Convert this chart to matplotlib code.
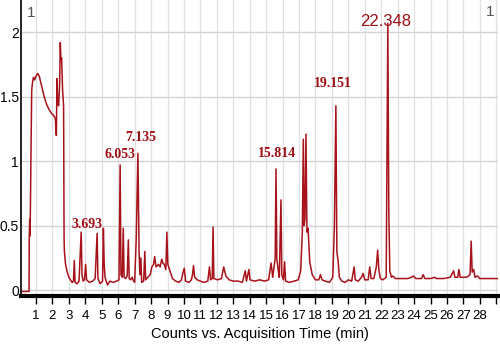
import numpy as np
import matplotlib
matplotlib.use('Agg')
import matplotlib.pyplot as plt

# chromatogram trace (time in min, counts in arbitrary units)
rt_min = [0.00, 0.58, 0.59, 0.62, 0.64, 0.66, 0.70, 0.74, 0.80, 0.85, 0.92, 1.00,
          1.10, 1.20, 1.35, 1.50, 1.65, 1.80, 1.95, 2.10, 2.18, 2.24, 2.28, 2.32,
          2.38, 2.44, 2.48, 2.52, 2.56, 2.62, 2.68, 2.71, 2.73, 2.80, 2.90, 3.00,
          3.10, 3.20, 3.28, 3.33, 3.38, 3.50, 3.62, 3.70, 3.75, 3.80, 3.87, 3.95,
          4.02, 4.08, 4.25, 4.45, 4.60, 4.72, 4.77, 4.90, 5.05, 5.10, 5.15, 5.20,
          5.35, 5.50, 5.70, 5.90, 6.05, 6.12, 6.17, 6.25, 6.31, 6.36, 6.45, 6.55,
          6.62, 6.67, 6.75, 6.85, 6.90, 7.00, 7.10, 7.20, 7.27, 7.32, 7.38, 7.43,
          7.55, 7.62, 7.67, 7.80, 7.95, 8.05, 8.15, 8.22, 8.30, 8.45, 8.55, 8.65,
          8.72, 8.80, 8.90, 8.96, 9.02, 9.15, 9.30, 9.50, 9.70, 9.85, 9.95, 10.02,
          10.10, 10.30, 10.45, 10.52, 10.58, 10.65, 10.80, 11.00, 11.20, 11.45, 11.55, 11.62,
          11.72, 11.77, 11.82, 12.05, 12.28, 12.42, 12.55, 12.75, 13.00, 13.30, 13.55, 13.73,
          13.80, 13.95, 14.02, 14.30, 14.60, 14.90, 15.15, 15.30, 15.40, 15.55, 15.60, 15.65,
          15.75, 15.80, 15.90, 15.95, 16.05, 16.12, 16.18, 16.40, 16.70, 16.95, 17.10, 17.20,
          17.26, 17.31, 17.36, 17.42, 17.48, 17.55, 17.65, 17.80, 18.00, 18.20, 18.30, 18.40,
          18.60, 18.85, 19.05, 19.15, 19.24, 19.30, 19.38, 19.45, 19.60, 19.80, 20.00, 20.20,
          20.35, 20.42, 20.60, 20.80, 20.90, 21.00, 21.20, 21.30, 21.38, 21.55, 21.70, 21.78,
          21.86, 21.95, 22.10, 22.30, 22.40, 22.46, 22.52, 22.62, 22.70, 22.85, 23.20, 23.60,
          23.85, 23.95, 24.10, 24.45, 24.55, 24.65, 25.00, 25.25, 25.35, 25.80, 26.20, 26.40,
          26.48, 26.65, 26.72, 26.80, 27.20, 27.40, 27.47, 27.53, 27.62, 27.70, 27.85, 28.00,
          28.50, 29.00, 29.10]
counts = [-0.01, -0.01, 0.40, 0.55, 0.42, 0.62, 1.10, 1.55, 1.62, 1.65, 1.63, 1.66,
          1.68, 1.66, 1.58, 1.50, 1.44, 1.40, 1.37, 1.35, 1.33, 1.20, 1.64, 1.45,
          1.43, 1.60, 1.92, 1.78, 1.80, 1.55, 1.43, 0.40, 0.30, 0.20, 0.14, 0.10,
          0.08, 0.06, 0.07, 0.23, 0.06, 0.05, 0.07, 0.30, 0.45, 0.12, 0.07, 0.08,
          0.20, 0.08, 0.06, 0.07, 0.09, 0.44, 0.09, 0.05, 0.07, 0.48, 0.20, 0.10,
          0.04, 0.07, 0.06, 0.07, 0.08, 0.97, 0.12, 0.10, 0.48, 0.10, 0.09, 0.11,
          0.39, 0.09, 0.08, 0.10, 0.08, 0.06, 0.40, 1.06, 0.30, 0.12, 0.25, 0.06,
          0.07, 0.30, 0.08, 0.10, 0.12, 0.18, 0.20, 0.26, 0.18, 0.20, 0.18, 0.24,
          0.21, 0.20, 0.16, 0.45, 0.20, 0.15, 0.09, 0.07, 0.06, 0.08, 0.14, 0.17,
          0.07, 0.06, 0.08, 0.12, 0.19, 0.10, 0.08, 0.07, 0.06, 0.07, 0.18, 0.08,
          0.09, 0.49, 0.09, 0.08, 0.09, 0.18, 0.11, 0.08, 0.07, 0.07, 0.06, 0.15,
          0.07, 0.16, 0.08, 0.07, 0.08, 0.07, 0.08, 0.21, 0.10, 0.25, 0.94, 0.24,
          0.14, 0.10, 0.70, 0.12, 0.08, 0.22, 0.07, 0.06, 0.07, 0.08, 0.15, 0.45,
          1.17, 0.50, 0.55, 1.21, 0.45, 0.48, 0.22, 0.12, 0.08, 0.08, 0.12, 0.08,
          0.07, 0.06, 0.10, 0.50, 1.43, 0.30, 0.22, 0.10, 0.07, 0.06, 0.08, 0.07,
          0.18, 0.08, 0.07, 0.10, 0.13, 0.08, 0.08, 0.18, 0.09, 0.09, 0.18, 0.31,
          0.15, 0.09, 0.08, 0.10, 2.07, 0.60, 0.15, 0.10, 0.11, 0.09, 0.09, 0.09,
          0.10, 0.11, 0.09, 0.09, 0.12, 0.09, 0.09, 0.10, 0.09, 0.09, 0.10, 0.15,
          0.10, 0.10, 0.16, 0.10, 0.10, 0.12, 0.38, 0.14, 0.16, 0.10, 0.11, 0.09,
          0.09, 0.09, 0.09]

# annotated peaks
peak_text = ['3.693', '6.053', '7.135', '15.814', '19.151']
top_peak_text = '22.348'

x_ticks = list(range(1, 30))
x_ticklabels = [str(i) if i < 29 else '' for i in x_ticks]
y_ticks = [0, 0.5, 1, 1.5, 2]
y_ticklabels = ['0', '0.5', '1', '1.5', '2']

sans = ['Liberation Sans', 'DejaVu Sans']
red = '#a8121a'
dark_red = '#9e0f14'

fig = plt.figure(figsize=(5.0, 3.57), dpi=100)
ax = fig.add_axes([0.042, 0.171, 0.954, 0.829])

ax.plot(rt_min, counts, color=red, lw=1.1)

ax.set_xlim(0.09, 29.1)
ax.set_ylim(-0.045, 2.25)

ax.set_xticks(x_ticks)
ax.set_xticklabels(x_ticklabels, family=sans, fontsize=9.5)
ax.set_yticks(y_ticks)
ax.set_yticklabels(y_ticklabels, family=sans, fontsize=10)
ax.tick_params(axis='x', length=6, width=1, pad=4, direction='out')
ax.tick_params(axis='y', length=0, pad=1.5)

ax.grid(axis='x', color='#e0e0e0', lw=0.9)
ax.grid(axis='y', color='#d2d2d2', lw=1.0)
ax.set_axisbelow(True)

for side in ['top', 'right']:
    ax.spines[side].set_visible(False)
ax.spines['left'].set_linewidth(1.2)
ax.spines['bottom'].set_linewidth(3)

ax.set_xlabel('Counts vs. Acquisition Time (min)', family=sans, fontsize=10.5, labelpad=4)

# peak labels
label_pos = [(4.08, 0.51), (6.14, 1.055), (7.38, 1.185), (15.68, 1.06), (19.07, 1.60)]
for txt, (lx, ly) in zip(peak_text, label_pos):
    ax.text(lx, ly, txt, color=dark_red, family='Liberation Serif', fontweight='bold',
            fontsize=10, ha='center', va='center')
ax.text(22.27, 2.08, top_peak_text, color=dark_red, family=sans, fontsize=12,
        ha='center', va='center')

ax.text(0.012, 0.955, '1', transform=ax.transAxes, color='#555555', family=sans,
        fontsize=11, ha='left', va='center')
ax.text(0.993, 0.96, '1', transform=ax.transAxes, color='#555555', family=sans,
        fontsize=11, ha='right', va='center')

fig.savefig('out.png', dpi=100)
